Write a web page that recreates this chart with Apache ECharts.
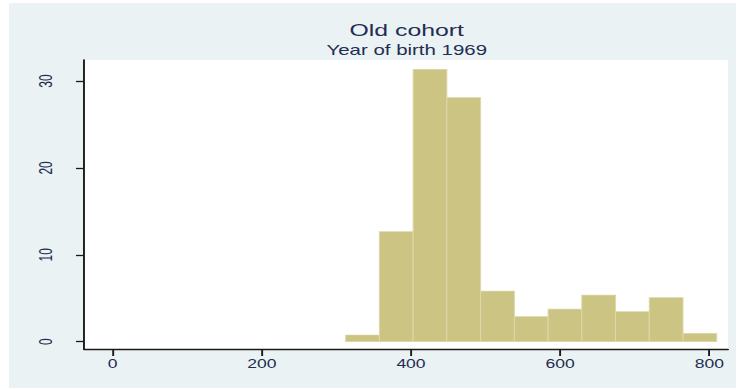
<!DOCTYPE html>
<html>
<head>
<meta charset="utf-8">
<script src="https://cdn.jsdelivr.net/npm/echarts@6/dist/echarts.min.js"></script>
<style>
  html, body { margin: 0; padding: 0; background: #ffffff; overflow: hidden; }
  /* the graph is laid out narrow and widened horizontally */
  #chart { width: 506px; height: 390px; transform: scaleX(1.4605); transform-origin: 0 0; }
</style>
</head>
<body>
<div id="chart"></div>
<script>
// Histogram bin edges (x units) and bar heights (percent)
const binEdges = [312.5, 357.7, 402.9, 448.1, 493.3, 538.6, 583.8, 629.0, 674.2, 719.4, 764.6, 809.8];
const percents = [0.77, 12.66, 31.35, 28.08, 5.83, 2.88, 3.76, 5.37, 3.45, 5.07, 0.96];
const xTicks = [0, 200, 400, 600, 800];
const yTicks = [0, 10, 20, 30];
const titleText = 'Old cohort';
const subtitleText = 'Year of birth 1969';

const textColor = '#232d52';
const barData = percents.map((p, i) => [binEdges[i], binEdges[i + 1], p]);

const chart = echarts.init(document.getElementById('chart'), null, { renderer: 'svg' });
chart.setOption({
  animation: false,
  backgroundColor: '#ffffff',
  graphic: [{
    type: 'rect',
    z: -10,
    shape: { x: 6.2, y: 3, width: 497.7, height: 385 },
    style: { fill: '#eaf2f3' },
    silent: true
  }],
  title: {
    text: titleText,
    subtext: subtitleText,
    left: 278.5,
    top: 22,
    textAlign: 'center',
    itemGap: 4,
    padding: 0,
    textStyle: { fontFamily: 'Liberation Sans', fontSize: 17, fontWeight: 'normal', color: textColor },
    subtextStyle: { fontFamily: 'Liberation Sans', fontSize: 14, color: textColor }
  },
  grid: {
    left: 57.5, right: 7.5, top: 60, bottom: 41,
    show: true, backgroundColor: '#ffffff', borderWidth: 0
  },
  xAxis: {
    type: 'value',
    min: -38.3, max: 825,
    axisLine: { show: true, onZero: false, lineStyle: { color: '#1a1a1a', width: 1.3 } },
    axisTick: { show: true, length: 7, customValues: xTicks, lineStyle: { color: '#1a1a1a', width: 1.3 } },
    axisLabel: { customValues: xTicks, margin: 9, fontFamily: 'Liberation Sans', fontSize: 12, color: textColor },
    splitLine: { show: false }
  },
  yAxis: {
    type: 'value',
    min: -0.84, max: 32.42,
    axisLine: { show: true, onZero: false, lineStyle: { color: '#1a1a1a', width: 1.3 } },
    axisTick: { show: true, length: 5.5, customValues: yTicks, lineStyle: { color: '#1a1a1a', width: 1.3 } },
    axisLabel: { customValues: yTicks, rotate: 90, margin: 20, fontFamily: 'Liberation Sans', fontSize: 12, color: textColor },
    splitLine: { show: false }
  },
  series: [{
    type: 'custom',
    data: barData,
    encode: { x: [0, 1], y: 2 },
    renderItem: function (params, api) {
      const p0 = api.coord([api.value(0), api.value(2)]);
      const p1 = api.coord([api.value(1), 0]);
      return {
        type: 'rect',
        shape: { x: p0[0], y: p0[1], width: p1[0] - p0[0], height: p1[1] - p0[1] },
        style: { fill: '#ccc482', stroke: '#ddd7a9', lineWidth: 0.7 }
      };
    },
    markLine: {
      silent: true,
      symbol: 'none',
      label: { show: false },
      lineStyle: { color: '#e9eff1', width: 1, type: 'solid' },
      data: yTicks.map(v => ({ yAxis: v })),
      z: -1
    }
  }]
});
</script>
</body>
</html>
